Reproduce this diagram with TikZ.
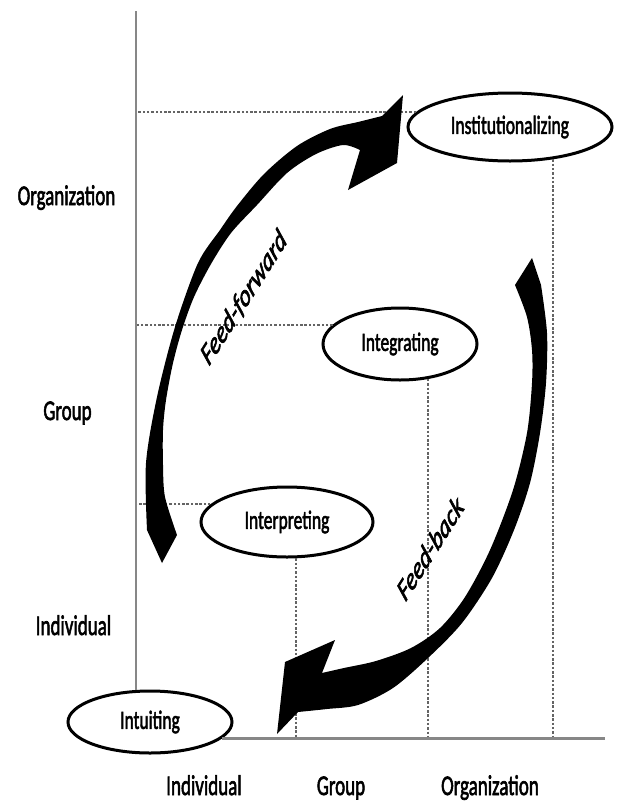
\documentclass[tikz,border=0pt]{standalone}
\usepackage{fontspec}
\setmainfont{Carlito}[BoldFont={Carlito}, BoldFeatures={FakeBold=2.5}, BoldItalicFont={Carlito Italic}, BoldItalicFeatures={FakeBold=2.5}]
\usepackage{graphicx}
\usetikzlibrary{shapes.geometric}
\definecolor{axisgray}{RGB}{135,135,135}
\definecolor{dashgray}{RGB}{100,100,100}
\newcommand\talltext[1]{\scalebox{1}[1.5]{#1}}
\begin{document}
\begin{tikzpicture}[x=1pt,y=-1pt,
  phase/.style={ellipse, draw=black, line width=3pt, fill=white, inner sep=0pt, font=\bfseries\fontsize{17.5}{20}\selectfont},
  axisline/.style={draw=axisgray, line width=2.4pt},
  guide/.style={draw=dashgray, line width=1.8pt, dash pattern=on 2.5pt off 1.8pt},
  axislabel/.style={anchor=base, font=\bfseries\fontsize{19}{22}\selectfont, inner sep=0pt},
  looplabel/.style={font=\bfseries\itshape\fontsize{21}{24}\selectfont, inner sep=0pt, rotate=46.5, transform shape},
  bigarrow/.style={fill=black}
]
\useasboundingbox (0,0) rectangle (617,801);
\coordinate (ytop) at (136,11);
\coordinate (xend) at (605,738);

% phases
\node[phase, minimum width=164pt, minimum height=62pt] (intu) at (150,722) {\talltext{Intuiting}};
\node[phase, minimum width=172pt, minimum height=70pt] (interp) at (287,522) {\talltext{Interpreting}};
\node[phase, minimum width=154pt, minimum height=72pt] (integ) at (400,344) {\talltext{Integrating}};
\node[phase, minimum width=204pt, minimum height=68pt] (inst) at (510,127) {\talltext{Institutionalizing}};

% guide lines
\draw[guide] (inst.171) -- (inst.171 -| ytop);
\draw[guide] (integ.164) -- (integ.164 -| ytop);
\draw[guide] (interp.167) -- (interp.167 -| ytop);
\draw[guide] (inst.-37) -- (inst.-37 |- xend);
\draw[guide] (integ.-51) -- (integ.-51 |- xend);
\draw[guide] (interp.-76) -- (interp.-76 |- xend);

% axes
\draw[axisline] (ytop) -- (ytop |- intu.north);
\draw[axisline] (intu.-13) -- (intu.-13 -| xend);

% feed-forward arrow
\fill[bigarrow] (162,563) -- plot[smooth] coordinates {(147,530) (146,463) (157,397) (175,327) (198,263) (220,230) (237,206) (264,174) (297,146) (330,129) (358,122) (382,116)} -- (403,95) -- (397,163) -- (348,190) -- plot[smooth] coordinates {(360,150) (343,145) (316,154) (287,173) (257,205) (231,233) (211,264) (194,297) (182,330) (173,363) (166,400) (163,430) (163,465) (165,497) (177,535)} -- cycle;

% feed-back arrow
\fill[bigarrow] (532,258) -- plot[smooth] coordinates {(541,285) (547,333) (546,383) (540,433) (530,483) (514,530) (492,578) (462,623) (428,658) (393,688) (358,705) (327,709) (298,712)} -- (277,734) -- (285,662) -- (335,640) -- plot[smooth] coordinates {(322,673) (344,668) (376,661) (411,648) (440,628) (465,597) (490,550) (513,490) (527,433) (532,383) (532,350) (527,317) (515,285)} -- cycle;

% loop labels
\begin{scope}[shift={(244,298)}, yscale=1.5]
  \node[looplabel] (ff) at (0,0) {Feed-forward};
\end{scope}
\begin{scope}[shift={(430,548)}, yscale=1.5]
  \node[looplabel] (fb) at (0,0) {Feed-back};
\end{scope}

% axis labels
\node[axislabel] (lorg) at (66.5,205) {\talltext{Organization}};
\node[axislabel] (lgrp) at (67.5,420) {\talltext{Group}};
\node[axislabel] (lind) at (73.5,635) {\talltext{Individual}};
\node[axislabel] (bind) at (204,795) {\talltext{Individual}};
\node[axislabel] (bgrp) at (341,795) {\talltext{Group}};
\node[axislabel] (borg) at (490,795) {\talltext{Organization}};
\end{tikzpicture}
\end{document}
